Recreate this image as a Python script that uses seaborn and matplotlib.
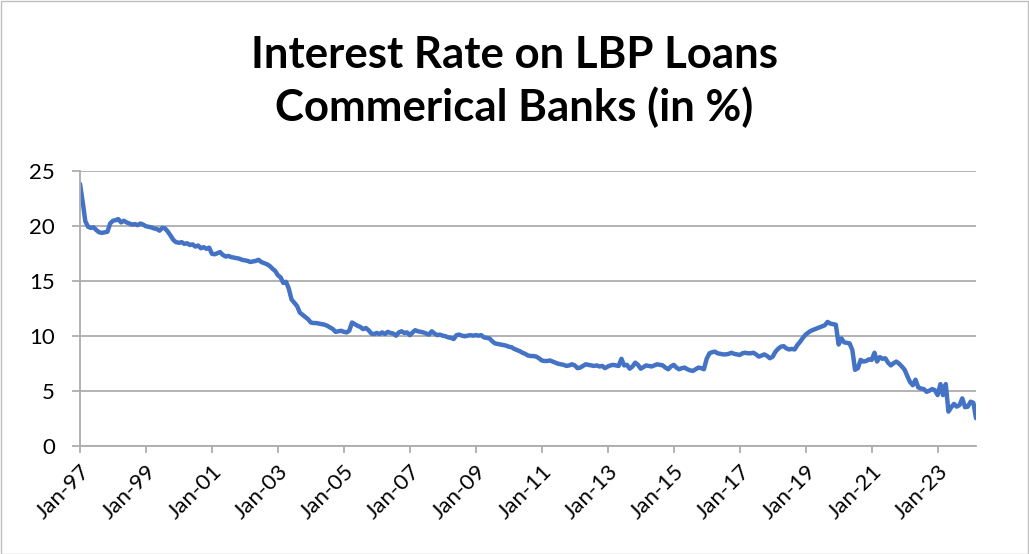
import matplotlib
matplotlib.use("Agg")
import matplotlib.pyplot as plt
import matplotlib.dates as mdates
from matplotlib.patches import Rectangle
import pandas as pd
import seaborn as sns

# Monthly average interest rate on LBP loans, commercial banks (%), Jan-1997 onward
rate_pct = [
    23.8, 22.1, 20.4, 19.9, 19.8, 19.85, 19.6, 19.4, 19.35, 19.4, 19.45, 20.2,      # 1997
    20.45, 20.5, 20.6, 20.3, 20.45, 20.3, 20.2, 20.1, 20.15, 20.05, 20.2, 20.1,     # 1998
    19.95, 19.9, 19.85, 19.75, 19.7, 19.55, 19.8, 19.75, 19.45, 19.1, 18.7, 18.5,   # 1999
    18.45, 18.5, 18.35, 18.4, 18.25, 18.3, 18.1, 18.2, 17.95, 18.05, 17.9, 18.0,    # 2000
    17.45, 17.4, 17.5, 17.6, 17.35, 17.2, 17.25, 17.15, 17.1, 17.05, 17.0, 16.9,    # 2001
    16.85, 16.8, 16.7, 16.75, 16.8, 16.9, 16.7, 16.6, 16.5, 16.35, 16.1, 15.9,      # 2002
    15.5, 15.3, 14.8, 14.9, 14.3, 13.3, 13.0, 12.7, 12.1, 11.9, 11.7, 11.5,         # 2003
    11.2, 11.15, 11.15, 11.1, 11.05, 11.0, 10.9, 10.75, 10.6, 10.35, 10.4, 10.45,   # 2004
    10.35, 10.3, 10.45, 11.2, 11.05, 10.9, 10.8, 10.6, 10.7, 10.5, 10.2, 10.15,     # 2005
    10.25, 10.15, 10.3, 10.15, 10.35, 10.25, 10.2, 10.0, 10.3, 10.4, 10.25, 10.3,   # 2006
    10.05, 10.3, 10.5, 10.4, 10.35, 10.3, 10.2, 10.1, 10.4, 10.2, 10.05, 10.1,      # 2007
    10.0, 9.95, 9.85, 9.8, 9.7, 10.05, 10.1, 10.0, 9.95, 10.0, 10.05, 10.0,         # 2008
    10.05, 10.0, 10.05, 9.85, 9.8, 9.75, 9.5, 9.3, 9.25, 9.2, 9.15, 9.1,            # 2009
    9.0, 8.95, 8.8, 8.7, 8.6, 8.45, 8.35, 8.2, 8.15, 8.15, 8.1, 7.95,               # 2010
    7.75, 7.7, 7.7, 7.75, 7.65, 7.55, 7.45, 7.4, 7.35, 7.25, 7.3, 7.4,              # 2011
    7.3, 7.05, 7.1, 7.25, 7.4, 7.35, 7.3, 7.25, 7.3, 7.2, 7.25, 7.05,               # 2012
    7.2, 7.3, 7.35, 7.3, 7.25, 7.9, 7.3, 7.35, 7.0, 7.2, 7.55, 7.35,                # 2013
    7.0, 7.15, 7.3, 7.25, 7.2, 7.3, 7.4, 7.35, 7.3, 7.1, 6.95, 7.2,                 # 2014
    7.35, 7.1, 6.95, 7.05, 7.1, 6.95, 6.85, 6.8, 6.95, 7.1, 7.05, 6.95,             # 2015
    7.9, 8.4, 8.5, 8.55, 8.4, 8.35, 8.3, 8.3, 8.35, 8.45, 8.35, 8.3,                # 2016
    8.25, 8.4, 8.45, 8.4, 8.4, 8.45, 8.3, 8.1, 8.2, 8.3, 8.15, 7.95,                # 2017
    8.1, 8.55, 8.8, 9.0, 9.05, 8.85, 8.75, 8.8, 8.75, 9.15, 9.45, 9.8,              # 2018
    10.1, 10.3, 10.45, 10.55, 10.65, 10.75, 10.85, 10.95, 11.25, 11.1, 11.05, 11.0, # 2019
    9.2, 9.75, 9.4, 9.35, 9.3, 8.7, 6.9, 7.05, 7.8, 7.65, 7.7, 7.85,                # 2020
    7.8, 8.45, 7.65, 8.05, 7.9, 7.95, 7.55, 7.3, 7.5, 7.65, 7.45, 7.2,              # 2021
    6.9, 6.3, 5.8, 5.5, 6.0, 5.3, 5.2, 5.15, 4.9, 5.0, 5.15, 5.05,                  # 2022
    4.6, 5.6, 4.6, 5.6, 3.1, 3.5, 3.8, 3.55, 3.7, 4.3, 3.5, 3.55,                   # 2023
    4.0, 3.9, 2.5,                                                                  # 2024
]
first_month = "1997-01-01"
tick_years = list(range(1997, 2024, 2))
y_ticks = [0, 5, 10, 15, 20, 25]
title_lines = ["Interest Rate on LBP Loans", "Commerical Banks (in %)"]

months = pd.date_range(first_month, periods=len(rate_pct), freq="MS")
df = pd.DataFrame({"month": months, "rate": rate_pct})

sns.set_theme(style="white")
plt.rcParams["font.family"] = ["Lato", "DejaVu Sans"]

W, H = 1029, 554
fig = plt.figure(figsize=(W / 100, H / 100), dpi=100)
fig.patch.set_facecolor("white")
# thin chart-area border
fig.add_artist(Rectangle((0.5 / W, 0.5 / H), 1 - 1.5 / W, 1 - 1.5 / H,
                         transform=fig.transFigure, fill=False,
                         edgecolor="#bfbfbf", linewidth=1.0))

left, right, top, bottom = 80, 976, 170.7, 445.7
ax = fig.add_axes([left / W, 1 - bottom / H, (right - left) / W, (bottom - top) / H])

sns.lineplot(data=df, x="month", y="rate", ax=ax, color="#4472C4", linewidth=3.2)

ax.set_xlim(months[0], months[-1])
ax.set_ylim(0, 25)
ax.set_yticks(y_ticks)
ax.yaxis.grid(True, color="#adadad", linewidth=1.3)
ax.xaxis.grid(False)

ax.set_xticks([pd.Timestamp(f"{y}-01-01") for y in tick_years])
ax.xaxis.set_major_formatter(mdates.DateFormatter("%b-%y"))
ax.set_xlabel("")
ax.set_ylabel("")

for side in ("top", "right"):
    ax.spines[side].set_visible(False)
for side in ("left", "bottom"):
    ax.spines[side].set_color("#adadad")
    ax.spines[side].set_linewidth(1.3)

ax.tick_params(axis="y", which="major", direction="out", length=6, width=1.3,
               color="#adadad", pad=12, labelsize=16, labelcolor="black", left=True)
ax.tick_params(axis="x", which="major", direction="out", length=5, width=1.3,
               color="#adadad", pad=6, labelsize=16, labelcolor="black", bottom=True)
for lbl in ax.get_xticklabels():
    lbl.set_rotation(45)
    lbl.set_ha("right")
    lbl.set_va("top")
    lbl.set_rotation_mode("anchor")

fig.text(0.5, 1 - 55 / H, title_lines[0], ha="center", va="center",
         fontsize=31.5, fontweight="bold", color="black")
fig.text(0.5, 1 - 107 / H, title_lines[1], ha="center", va="center",
         fontsize=31.5, fontweight="bold", color="black")

fig.savefig("out.png", dpi=100, facecolor="white")
